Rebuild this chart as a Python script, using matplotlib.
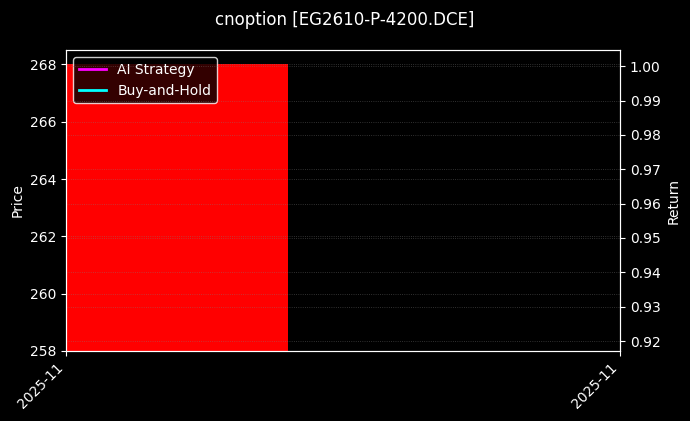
import numpy as np
import matplotlib
matplotlib.use('Agg')
import matplotlib.pyplot as plt
import matplotlib.dates as mdates
import datetime as dt

# data
dates = [dt.date(2025, 11, 3)]
open_px = [268.0]
close_px = [258.0]
ai_return = [1.0]
bh_return = [1.0]
tick_labels = ['2025-11', '2025-11']

plt.style.use('dark_background')
fig = plt.figure(figsize=(6.9, 4.21), dpi=100)
ax = fig.add_axes([0.0957, 0.1663, 0.8029, 0.7147])
ax2 = ax.twinx()

x = mdates.date2num(dates)
w = 0.6
for xi, o, c in zip(x, open_px, close_px):
    col = 'red' if c < o else 'lime'
    ax.bar(xi, abs(c - o), bottom=min(o, c), width=w, align='edge', color=col, zorder=1)

l1, = ax2.plot(x, ai_return, color='magenta', lw=2, label='AI Strategy')
l2, = ax2.plot(x, bh_return, color='cyan', lw=2, label='Buy-and-Hold')

ax.set_xlim(x[0], x[0] + w * 2.5)
ax.set_ylim(258, 268.5)
ax2.set_ylim(0.9171, 1.0047)
ax.set_yticks([258, 260, 262, 264, 266, 268])
ax2.set_yticks(np.arange(0.92, 1.001, 0.01))

ax.set_xticks([x[0], x[0] + w * 2.5])
ax.set_xticklabels(tick_labels, rotation=45, ha='right')

ax.grid(True, axis='y', color='gray', linestyle=':', linewidth=0.6, alpha=0.5)
ax2.grid(True, axis='y', color='gray', linestyle=':', linewidth=0.6, alpha=0.5)
ax.set_axisbelow(False)

ax.set_ylabel('Price')
ax2.set_ylabel('Return')

leg = ax.legend(handles=[l1, l2], loc='upper left', facecolor='black', framealpha=0.8,
                edgecolor='white')

fig.suptitle('cnoption [EG2610-P-4200.DCE]', fontsize=12, y=0.975)

fig.savefig('out.png', dpi=100)
